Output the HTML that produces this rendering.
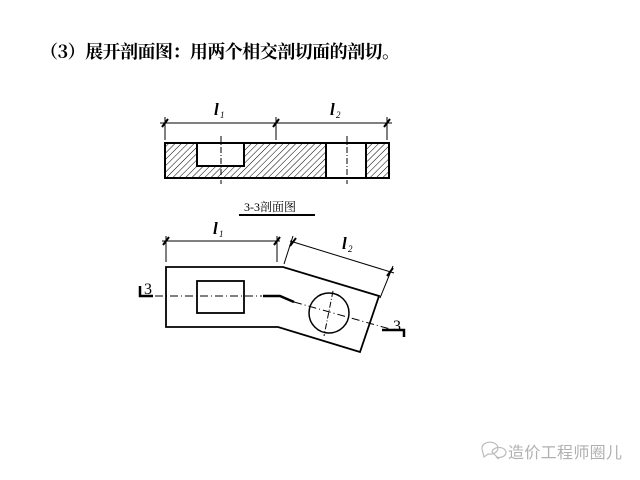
<!DOCTYPE html>
<html><head><meta charset="utf-8"><style>
body{margin:0;background:#fff;width:640px;height:480px;overflow:hidden}
svg{display:block}
</style></head><body>
<svg width="640" height="480" viewBox="0 0 640 480" xmlns="http://www.w3.org/2000/svg">
<defs>
<pattern id="h" patternUnits="userSpaceOnUse" width="4.5" height="4.5" patternTransform="rotate(45)">
<line x1="0" y1="0" x2="0" y2="4.5" stroke="#000" stroke-width="1"/>
</pattern>
</defs>
<text x="40" y="58" font-family="'Noto Serif CJK SC','Liberation Serif',serif" font-size="18" font-weight="bold" textLength="360">（3）展开剖面图：用两个相交剖切面的剖切。</text>

<g stroke="#000" fill="none">
<line x1="160" y1="123" x2="392" y2="123" stroke-width="1"/>
<line x1="165" y1="117" x2="165" y2="140"/>
<line x1="276" y1="117" x2="276" y2="140"/>
<line x1="387" y1="117" x2="387" y2="140"/>
<line x1="162" y1="127" x2="168" y2="119" stroke-width="2"/>
<line x1="273" y1="127" x2="279" y2="119" stroke-width="2"/>
<line x1="384" y1="127" x2="390" y2="119" stroke-width="2"/>
<path d="M165,143 H389 V178 H165 Z" fill="url(#h)" stroke-width="2"/>
<rect x="197" y="143" width="47" height="23" fill="#fff" stroke-width="2"/>
<rect x="326" y="143" width="40" height="35" fill="#fff" stroke-width="2"/>
<line x1="221" y1="136" x2="221" y2="184" stroke-dasharray="6,2,1,2"/>
<line x1="347" y1="136" x2="347" y2="184" stroke-dasharray="6,2,1,2"/>
</g>
<text x="214" y="115" font-family="'Liberation Serif',serif" font-style="italic" font-weight="bold" font-size="17">l</text>
<text x="220" y="118" font-family="'Liberation Serif',serif" font-style="italic" font-size="9">1</text>
<text x="330" y="115" font-family="'Liberation Serif',serif" font-style="italic" font-weight="bold" font-size="17">l</text>
<text x="336" y="118" font-family="'Liberation Serif',serif" font-style="italic" font-size="9">2</text>
<text x="244" y="211" font-family="'Liberation Serif','Noto Serif CJK SC',serif" font-size="12">3-3剖面图</text>
<line x1="239" y1="215" x2="315" y2="215" stroke="#000" stroke-width="2"/>

<g stroke="#000" fill="none">
<line x1="162" y1="241" x2="280" y2="241"/>
<line x1="166" y1="236" x2="166" y2="262"/>
<line x1="277" y1="236" x2="277" y2="262"/>
<line x1="163" y1="245" x2="169" y2="237" stroke-width="2"/>
<line x1="274" y1="245" x2="280" y2="237" stroke-width="2"/>
<line x1="290" y1="241" x2="394" y2="273"/>
<line x1="293" y1="236" x2="284" y2="264"/>
<line x1="393" y1="266" x2="380" y2="298"/>
<line x1="290" y1="246" x2="296" y2="238" stroke-width="2"/>
<line x1="387" y1="276" x2="393" y2="268" stroke-width="2"/>
<path d="M166,267 H283 L379,296 L360,352 L278,327 H166 Z" stroke-width="1.8"/>
<rect x="197" y="281" width="47" height="32" stroke-width="1.8"/>
<circle cx="329" cy="313" r="20" stroke-width="1.5"/>
<line x1="155" y1="296" x2="262" y2="296" stroke-dasharray="8,3,1,3"/>
<path d="M263,296 H280 L294,302" stroke-width="2.5"/>
<line x1="294" y1="302" x2="390" y2="329" stroke-dasharray="8,3,1,3"/>
<line x1="333" y1="291" x2="324" y2="336" stroke-dasharray="6,2,1,2"/>
<path d="M140,286 V296 H153" stroke-width="2.5"/>
<path d="M382,330 H404 V337" stroke-width="2.5"/>
</g>
<text x="144" y="294" font-family="'Liberation Serif',serif" font-size="16">3</text>
<text x="393" y="331" font-family="'Liberation Serif',serif" font-size="16">3</text>
<text x="213" y="234" font-family="'Liberation Serif',serif" font-style="italic" font-weight="bold" font-size="17">l</text>
<text x="219" y="237" font-family="'Liberation Serif',serif" font-style="italic" font-size="9">1</text>
<text x="342" y="249" font-family="'Liberation Serif',serif" font-style="italic" font-weight="bold" font-size="17">l</text>
<text x="348" y="252" font-family="'Liberation Serif',serif" font-style="italic" font-size="9">2</text>

<g stroke="#bbb" fill="none" stroke-width="1.2">
<path d="M482,449 a8,6 0 1,1 6,5 l-4,3 z"/>
<path d="M492,452 a7,5 0 1,1 4,5 l3,2 z"/>
</g>
<text x="508" y="458" font-family="'Noto Sans CJK SC',sans-serif" font-size="16" fill="#b0b0b0" textLength="114">造价工程师圈儿</text>
</svg>
</body></html>
